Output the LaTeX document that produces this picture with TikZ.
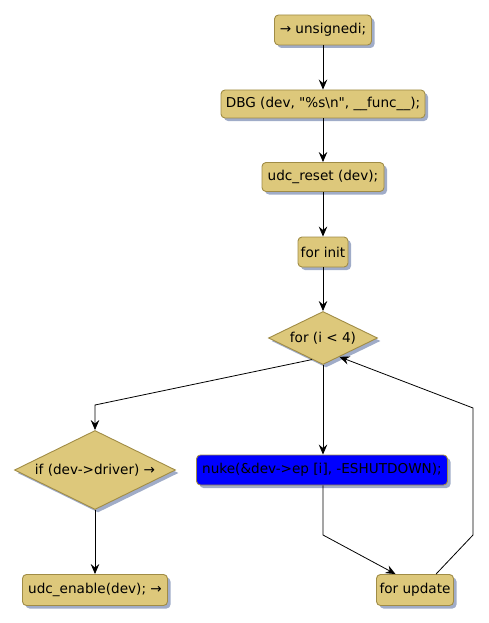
\documentclass[tikz,border=0pt]{standalone}
\usepackage{fontspec}
\setmainfont{DejaVu Sans}[Ligatures=TeXOff]
\usetikzlibrary{shapes.geometric,arrows.meta,calc,shadows}
\definecolor{boxfill}{RGB}{221,200,123}
\definecolor{boxline}{RGB}{160,140,70}
\definecolor{shadowcol}{RGB}{160,172,200}
\tikzset{
  x=1pt,y=-1pt,
  base/.style={draw=boxline, line width=0.9pt, fill=boxfill, font=\fontsize{13.6}{16}\selectfont,
    drop shadow={shadow xshift=3pt, shadow yshift=-3pt, fill=shadowcol, opacity=1}},
  stepbox/.style={base, rounded corners=4pt, inner sep=0pt},
  decision/.style={base, diamond, aspect=2, inner sep=0pt},
  conn/.style={line width=0.8pt, draw=black},
  arr/.style={conn, -{Stealth[length=10pt,width=8.5pt,inset=3.5pt]}}
}
\begin{document}
\begin{tikzpicture}
\useasboundingbox (0,0) rectangle (489,623);
\node[stepbox, minimum width=97pt, minimum height=30pt] (u) at (323,30) {→ unsignedi;};
\node[stepbox, minimum width=204pt, minimum height=28pt] (dbg) at (323,104) {DBG (dev, "\%s\textbackslash n", \_\_func\_\_);};
\node[stepbox, minimum width=122pt, minimum height=29pt] (reset) at (323,177) {udc\_reset (dev);};
\node[stepbox, minimum width=50pt, minimum height=30pt] (init) at (323,252) {for init};
\node[decision, minimum width=109pt, minimum height=53pt] (loop) at (323,338) {for (i < 4)};
\node[decision, minimum width=161pt, minimum height=79pt] (if) at (95,470) {if (dev->driver) →};
\node[stepbox, fill=blue, minimum width=251pt, minimum height=30pt] (nuke) at (322,470) {nuke(\&dev->ep [i], -ESHUTDOWN);};
\node[stepbox, minimum width=145pt, minimum height=31pt] (enable) at (95,590) {udc\_enable(dev); →};
\node[stepbox, minimum width=77pt, minimum height=31pt] (update) at (415,590) {for update};
\coordinate (c1) at (95,405);
\coordinate (c2) at (323,535);
\coordinate (c3) at (473,535);
\coordinate (c4) at (473,408);
\draw[arr] (u) -- (dbg);
\draw[arr] (dbg) -- (reset);
\draw[arr] (reset) -- (init);
\draw[arr] (init) -- (loop);
\draw[arr] ($(loop.south)!0.2!(loop.west)$) -- (c1) -- (if.north);
\draw[arr] (loop.south) -- (loop.south |- nuke.north);
\draw[arr] (loop.south |- nuke.south) -- (c2) -- ($(update.north west)!0.25!(update.north east)$);
\draw[arr] ($(update.north west)!0.77!(update.north east)$) -- (c3) -- (c4) -- ($(loop.south)!0.3!(loop.east)$);
\draw[arr] (if.south) -- (enable.north);
\end{tikzpicture}
\end{document}
